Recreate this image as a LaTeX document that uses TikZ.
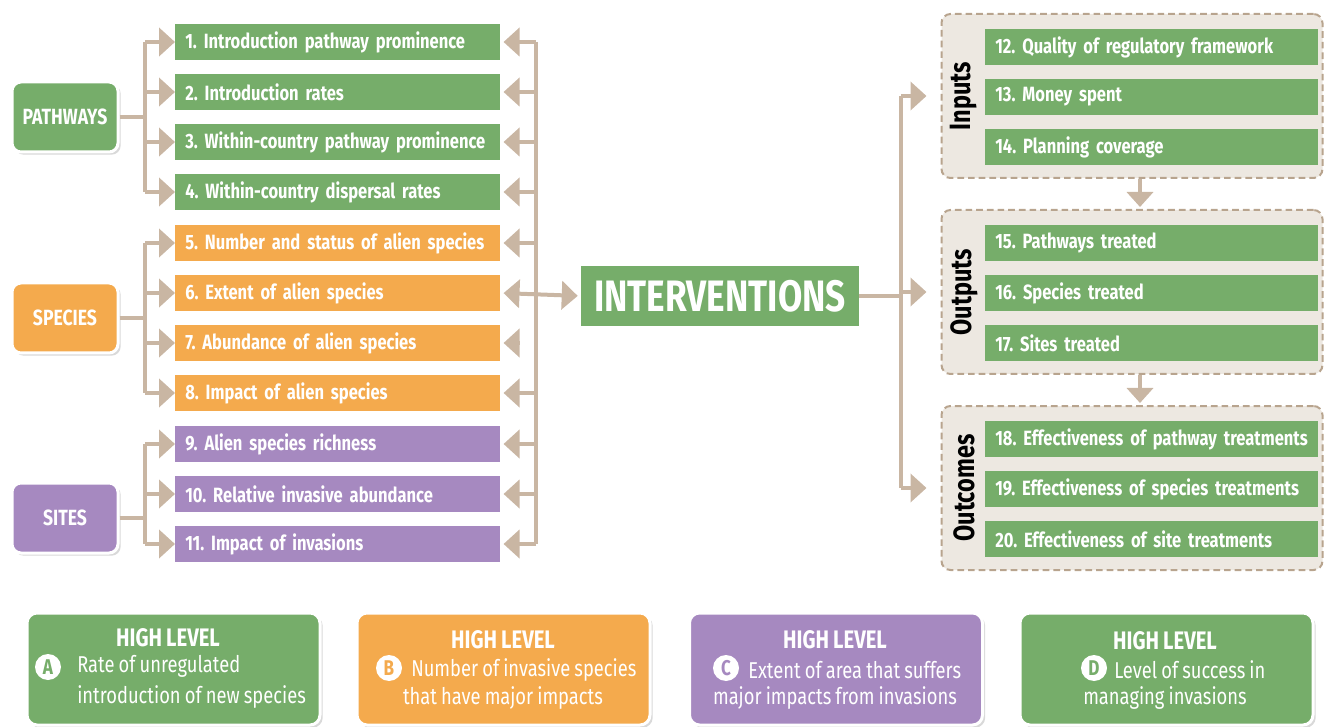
\documentclass[tikz,border=0pt]{standalone}
\usepackage{fontspec}
\setmainfont{Fira Sans}[FakeStretch=0.8, WordSpace=0.85]
\usetikzlibrary{shadows,arrows.meta,calc}
\definecolor{cgreen}{RGB}{118,173,106}
\definecolor{corange}{RGB}{244,170,77}
\definecolor{cpurple}{RGB}{166,137,192}
\definecolor{ctan}{RGB}{201,182,163}
\definecolor{cbeige}{RGB}{237,232,225}
\definecolor{cdash}{RGB}{184,164,142}
\frenchspacing
\begin{document}
\begin{tikzpicture}[x=0.75pt,y=-0.75pt,
  itemfont/.style={font=\fontsize{15.5}{17}\selectfont\bfseries},
  item/.style={fill=#1, text=white, itemfont, anchor=west, minimum height=36*0.75pt,
    inner xsep=10*0.75pt, inner ysep=0pt, text width=305*0.75pt, align=left},
  ritem/.style={item=cgreen, text width=313*0.75pt},
  cat/.style={fill=#1, draw=white, line width=3*0.75pt, rounded corners=9*0.75pt,
    minimum width=106*0.75pt, minimum height=70*0.75pt, text=white,
    font=\fontsize{16.5}{18}\selectfont\bfseries,
    drop shadow={shadow xshift=2pt, shadow yshift=-2pt, opacity=0.25, fill=black!60}},
  conn/.style={draw=ctan, line width=4*0.75pt},
  arr/.style={conn, -{Triangle[length=16*0.75pt, width=28*0.75pt]}},
  darr/.style={conn, {Triangle[length=16*0.75pt, width=28*0.75pt]}-{Triangle[length=16*0.75pt, width=28*0.75pt]}},
  grp/.style={fill=cbeige, draw=cdash, dashed, dash pattern=on 5pt off 3pt, line width=2*0.75pt,
    rounded corners=9*0.75pt, minimum width=381*0.75pt, minimum height=164*0.75pt},
  glabel/.style={rotate=90, font=\fontsize{22}{24}\selectfont\bfseries, text=black},
  hbox/.style={fill=#1, draw=white, line width=3*0.75pt, rounded corners=10*0.75pt,
    minimum width=293*0.75pt, minimum height=112*0.75pt,
    drop shadow={shadow xshift=2pt, shadow yshift=-2pt, opacity=0.25, fill=black!60}},
  hl/.style={text=white, font=\fontsize{19}{21}\selectfont\bfseries, inner sep=0pt},
  ht/.style={text=white, font=\fontsize{17.2}{19}\selectfont, inner sep=0pt},
  badge/.style={circle, fill=white, text=#1, minimum size=26*0.75pt, inner sep=0pt,
    font=\fontsize{16}{17}\selectfont\bfseries}
]
\useasboundingbox (0,0) rectangle (1325,727);

% left category boxes
\node[cat=cgreen] (pw) at (65,117) {PATHWAYS};
\node[cat=corange] (sp) at (65,318) {SPECIES};
\node[cat=cpurple] (st) at (65,518) {SITES};

% items
\node[item=cgreen] (i1) at (175,42) {1. Introduction pathway prominence};
\node[item=cgreen] (i2) at (175,92) {2. Introduction rates};
\node[item=cgreen] (i3) at (175,142) {3. Within-country pathway prominence};
\node[item=cgreen] (i4) at (175,192) {4. Within-country dispersal rates};
\node[item=corange] (i5) at (175,243) {5. Number and status of alien species};
\node[item=corange] (i6) at (175,293) {6. Extent of alien species};
\node[item=corange] (i7) at (175,343) {7. Abundance of alien species};
\node[item=corange] (i8) at (175,393) {8. Impact of alien species};
\node[item=cpurple] (i9) at (175,444) {9. Alien species richness};
\node[item=cpurple] (i10) at (175,494) {10. Relative invasive abundance};
\node[item=cpurple] (i11) at (175,544) {11. Impact of invasions};

% INTERVENTIONS
\node[fill=cgreen, text=white, minimum width=278*0.75pt, minimum height=60*0.75pt,
  font=\fontsize{33}{36}\selectfont\bfseries] (iv) at (720,296) {INTERVENTIONS};

% left brackets
\coordinate (jp) at (145,117);
\coordinate (js) at (145,318);
\coordinate (jt) at (145,518);
\draw[conn] (pw.east) -- (jp);
\draw[conn] (sp.east) -- (js);
\draw[conn] (st.east) -- (jt);
\draw[conn] (jp |- i1.west) -- (jp |- i4.west);
\draw[conn] (js |- i5.west) -- (js |- i8.west);
\draw[conn] (jt |- i9.west) -- (jt |- i11.west);
\foreach \i in {1,2,3,4} \draw[arr] (jp |- i\i.west) -- (i\i.west);
\foreach \i in {5,6,7,8} \draw[arr] (js |- i\i.west) -- (i\i.west);
\foreach \i in {9,10,11} \draw[arr] (jt |- i\i.west) -- (i\i.west);

% right bracket of the items
\coordinate (jr) at (536,293);
\draw[conn] (jr |- i1.east) -- (jr |- i11.east);
\foreach \i in {1,2,3,4,5,8,9,10,11} \draw[arr, shorten >=3*0.75pt] (jr |- i\i.east) -- (i\i.east);
\draw[arr, shorten >=3*0.75pt] ($(i7.east)+(19,0)$) -- (i7.east);
\draw[darr, shorten <=3*0.75pt, shorten >=3*0.75pt] (i6.east) -- (iv.west);

% right groups
\node[grp] (gin) at (1132,96) {};
\node[grp] (gout) at (1132,292) {};
\node[grp] (goc) at (1132,488) {};
\node[glabel] (lin) at (964,96) {Inputs};
\node[glabel] (lout) at (964,292) {Outputs};
\node[glabel] (loc) at (964,488) {Outcomes};

\node[ritem] (r12) at (985,47) {12. Quality of regulatory framework};
\node[ritem] (r13) at (985,97) {13. Money spent};
\node[ritem] (r14) at (985,147) {14. Planning coverage};
\node[ritem] (r15) at (985,243) {15. Pathways treated};
\node[ritem] (r16) at (985,293) {16. Species treated};
\node[ritem] (r17) at (985,343) {17. Sites treated};
\node[ritem] (r18) at (985,439) {18. Effectiveness of pathway treatments};
\node[ritem] (r19) at (985,489) {19. Effectiveness of species treatments};
\node[ritem] (r20) at (985,539) {20. Effectiveness of site treatments};

% interventions to groups
\coordinate (jv) at (901,296);
\draw[conn] (iv.east) -- (jv);
\draw[conn] (jv |- gin.west) -- (jv |- goc.west);
\draw[arr, shorten >=14*0.75pt] (jv |- gin.west) -- (gin.west);
\draw[arr, shorten >=14*0.75pt] (jv |- gout.west) -- (gout.west);
\draw[arr, shorten >=14*0.75pt] (jv |- goc.west) -- (goc.west);

% down arrows
\coordinate (jd) at (1140,0);
\draw[conn, -{Triangle[length=15*0.75pt, width=26*0.75pt]}, shorten >=2*0.75pt] (jd |- gin.south) -- (jd |- gout.north);
\draw[conn, -{Triangle[length=15*0.75pt, width=26*0.75pt]}, shorten >=2*0.75pt] (jd |- gout.south) -- (jd |- goc.north);

% bottom boxes
\node[hbox=cgreen] (ha) at (173.5,669) {};
\node[hbox=corange] (hb) at (503.5,669) {};
\node[hbox=cpurple] (hc) at (836,669) {};
\node[hbox=cgreen] (hd) at (1166.5,669) {};

\node[hl] (ta) at (168,638) {HIGH LEVEL};
\node[badge=cgreen] (ba) at (48,667) {A};
\node[ht, anchor=west] (ta1) at (77,666) {Rate of unregulated};
\node[ht, anchor=west] (ta2) at (77,697) {introduction of new species};

\node[hl] (tb) at (503,640) {HIGH LEVEL};
\node[badge=corange] (bb) at (389,668) {B};
\node[ht, anchor=west] (tb1) at (411,670) {Number of invasive species};
\node[ht] (tb2) at (503,698) {that have major impacts};

\node[hl] (tc) at (835,640) {HIGH LEVEL};
\node[badge=cpurple] (bc) at (726,668) {C};
\node[ht, anchor=west] (tc1) at (748,670) {Extent of area that suffers};
\node[ht] (tc2) at (835,698) {major impacts from invasions};

\node[hl] (td) at (1165,641) {HIGH LEVEL};
\node[badge=cgreen] (bd) at (1094,668) {D};
\node[ht, anchor=west] (td1) at (1114,670) {Level of success in};
\node[ht] (td2) at (1165,698) {managing invasions};
\end{tikzpicture}
\end{document}
